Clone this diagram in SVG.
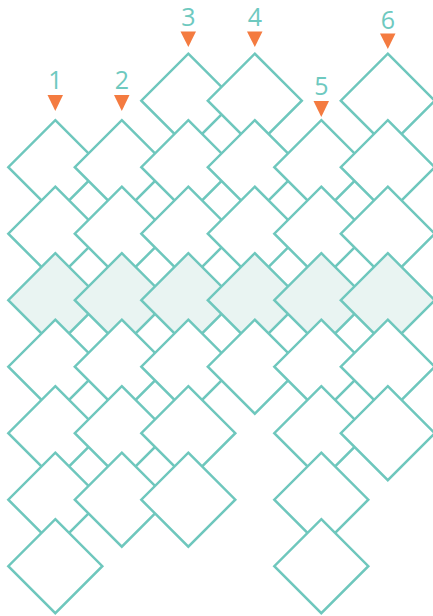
<svg xmlns="http://www.w3.org/2000/svg" width="433" height="616" viewBox="0 0 433 616">
<defs>
<style>
.d{fill:#ffffff;stroke:#6ec7bd;stroke-width:2.5;stroke-linejoin:miter}
.s{fill:#e9f4f2}
.a{fill:#f47b40}
.t{fill:#6ec9bf;font-family:"Open Sans","Liberation Sans",sans-serif;font-size:25px;text-anchor:middle}
</style>
<polygon id="dm" points="0,-47 47,0 0,47 -47,0"/>
</defs>
<rect width="433" height="616" fill="#ffffff"/>
<g id="labels">
<g id="col1-label"><text class="t" x="55.3" y="89">1</text><polygon class="a" points="47.5,95 63,95 55.3,111"/></g>
<g id="col2-label"><text class="t" x="121.8" y="89">2</text><polygon class="a" points="114,95 129.5,95 121.8,111"/></g>
<g id="col3-label"><text class="t" x="188.3" y="26">3</text><polygon class="a" points="180.5,31.5 196,31.5 188.3,47"/></g>
<g id="col4-label"><text class="t" x="254.8" y="26">4</text><polygon class="a" points="247,31.5 262.5,31.5 254.8,47"/></g>
<g id="col5-label"><text class="t" x="321.3" y="95">5</text><polygon class="a" points="313.5,101 329,101 321.3,117"/></g>
<g id="col6-label"><text class="t" x="387.8" y="28.5">6</text><polygon class="a" points="380,33.5 395.5,33.5 387.8,49"/></g>
</g>
<g id="connectors"></g>
<g id="r0c3"><use href="#dm" class="d" x="188.3" y="100.7"/></g>
<g id="r0c4"><use href="#dm" class="d" x="254.8" y="100.7"/></g>
<g id="r0c6"><use href="#dm" class="d" x="387.8" y="100.7"/></g>
<g id="r1c1"><use href="#dm" class="d" x="55.3" y="167.2"/></g>
<g id="r1c2"><use href="#dm" class="d" x="121.8" y="167.2"/></g>
<g id="r1c3"><use href="#dm" class="d" x="188.3" y="167.2"/></g>
<g id="r1c4"><use href="#dm" class="d" x="254.8" y="167.2"/></g>
<g id="r1c5"><use href="#dm" class="d" x="321.3" y="167.2"/></g>
<g id="r1c6"><use href="#dm" class="d" x="387.8" y="167.2"/></g>
<g id="r2c1"><use href="#dm" class="d" x="55.3" y="233.7"/></g>
<g id="r2c2"><use href="#dm" class="d" x="121.8" y="233.7"/></g>
<g id="r2c3"><use href="#dm" class="d" x="188.3" y="233.7"/></g>
<g id="r2c4"><use href="#dm" class="d" x="254.8" y="233.7"/></g>
<g id="r2c5"><use href="#dm" class="d" x="321.3" y="233.7"/></g>
<g id="r2c6"><use href="#dm" class="d" x="387.8" y="233.7"/></g>
<g id="r3c1"><use href="#dm" class="d s" x="55.3" y="300.2"/></g>
<g id="r3c2"><use href="#dm" class="d s" x="121.8" y="300.2"/></g>
<g id="r3c3"><use href="#dm" class="d s" x="188.3" y="300.2"/></g>
<g id="r3c4"><use href="#dm" class="d s" x="254.8" y="300.2"/></g>
<g id="r3c5"><use href="#dm" class="d s" x="321.3" y="300.2"/></g>
<g id="r3c6"><use href="#dm" class="d s" x="387.8" y="300.2"/></g>
<g id="r4c1"><use href="#dm" class="d" x="55.3" y="366.7"/></g>
<g id="r4c2"><use href="#dm" class="d" x="121.8" y="366.7"/></g>
<g id="r4c3"><use href="#dm" class="d" x="188.3" y="366.7"/></g>
<g id="r4c4"><use href="#dm" class="d" x="254.8" y="366.7"/></g>
<g id="r4c5"><use href="#dm" class="d" x="321.3" y="366.7"/></g>
<g id="r4c6"><use href="#dm" class="d" x="387.8" y="366.7"/></g>
<g id="r5c1"><use href="#dm" class="d" x="55.3" y="433.2"/></g>
<g id="r5c2"><use href="#dm" class="d" x="121.8" y="433.2"/></g>
<g id="r5c3"><use href="#dm" class="d" x="188.3" y="433.2"/></g>
<g id="r5c5"><use href="#dm" class="d" x="321.3" y="433.2"/></g>
<g id="r5c6"><use href="#dm" class="d" x="387.8" y="433.2"/></g>
<g id="r6c1"><use href="#dm" class="d" x="55.3" y="499.7"/></g>
<g id="r6c2"><use href="#dm" class="d" x="121.8" y="499.7"/></g>
<g id="r6c3"><use href="#dm" class="d" x="188.3" y="499.7"/></g>
<g id="r6c5"><use href="#dm" class="d" x="321.3" y="499.7"/></g>
<g id="r7c1"><use href="#dm" class="d" x="55.3" y="566.2"/></g>
<g id="r7c5"><use href="#dm" class="d" x="321.3" y="566.2"/></g>
</svg>
